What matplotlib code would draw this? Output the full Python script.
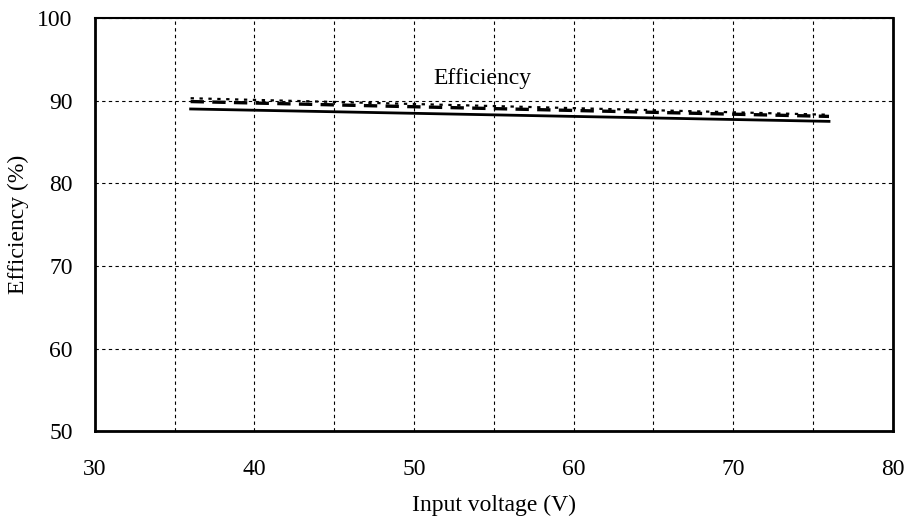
import matplotlib
matplotlib.use("Agg")
import matplotlib.pyplot as plt

# Datos
voltaje = [36, 76]
efic_solida = [89.0, 87.5]
efic_guiones = [89.9, 88.1]
efic_puntos = [90.3, 88.3]

plt.rcParams['font.family'] = ['Liberation Serif', 'DejaVu Serif']

fig = plt.figure(figsize=(9.12, 5.17), dpi=100)
ax = fig.add_axes([0.104, 0.166, 0.875, 0.799])

ax.plot(voltaje, efic_solida, color="black", lw=2.0, linestyle="-")
ax.plot(voltaje, efic_guiones, color="black", lw=2.4, linestyle=(0, (4, 2.5)))
ax.plot(voltaje, efic_puntos, color="black", lw=1.6, linestyle=(0, (1.5, 2.5)))

ax.set_xlim(30, 80)
ax.set_ylim(50, 100)
ax.set_xticks(range(30, 81, 10))
ax.set_yticks(range(50, 101, 10))
ax.set_xticks(range(35, 80, 10), minor=True)
ax.tick_params(which="both", length=0, labelsize=17)
ax.tick_params(axis="x", pad=20)
ax.tick_params(axis="y", pad=16)

ax.grid(True, which="both", axis="x", color="black", linestyle=(0, (3, 3)), lw=0.8)
ax.grid(True, which="major", axis="y", color="black", linestyle=(0, (3, 3)), lw=0.8)

for lado in ["left", "bottom", "right"]:
    ax.spines[lado].set_linewidth(2.0)
ax.spines["top"].set_linewidth(1.5)

ax.text(54.3, 92.7, "Efficiency", fontsize=17, ha="center", va="center")
ax.set_xlabel("Input voltage (V)", fontsize=17, labelpad=11)
ax.set_ylabel("Efficiency (%)", fontsize=17, labelpad=6)

plt.savefig("out.png")
